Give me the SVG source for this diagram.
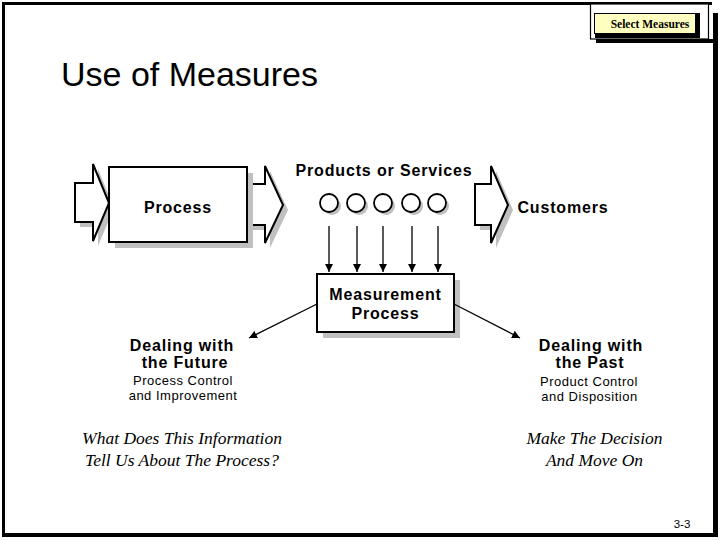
<svg xmlns="http://www.w3.org/2000/svg" width="720" height="540" viewBox="0 0 720 540">
<style>
.b{font-family:"Liberation Sans",Arial,sans-serif;font-weight:bold;font-size:16px;letter-spacing:0.85px;fill:#000;text-anchor:middle}
.r{font-family:"Liberation Sans",Arial,sans-serif;font-size:13px;letter-spacing:0.5px;fill:#000;text-anchor:middle}
.i{font-family:"Liberation Serif","Times New Roman",serif;font-style:italic;font-size:17.5px;fill:#000;text-anchor:middle}
.sh{fill:#c0c0c0;stroke:none}
.shape{fill:#fff;stroke:#000;stroke-width:2}
.circ{fill:#fff;stroke:#000;stroke-width:1.8}
.conn{stroke:#000;stroke-width:1.3;fill:none}
</style>
<defs>
<marker id="ah" viewBox="0 0 10 10" refX="10" refY="5" markerWidth="8" markerHeight="8" markerUnits="userSpaceOnUse" orient="auto">
<path d="M0,0 L10,5 L0,10 Z" fill="#000"/>
</marker>
<path id="arrowL" d="M75,183 L93,183 L93,164 L109,203 L93,241 L93,222 L75,222 Z"/>
<path id="arrowM" d="M247,184 L265,184 L265,166 L283,205 L265,243 L265,225 L247,225 Z"/>
<path id="arrowR" d="M475,184 L491,184 L491,166 L508,205 L491,243 L491,225 L475,225 Z"/>
</defs>
<rect width="720" height="540" fill="#fff"/>
<!-- frame -->
<g id="frame" fill="#000">
<rect x="2" y="2" width="710" height="3"/>
<rect x="2" y="2" width="3" height="535"/>
<rect x="2" y="533" width="716" height="4"/>
<rect x="713" y="13" width="5" height="524"/>
</g>
<!-- tab -->
<g id="tab">
<rect x="596" y="39" width="117" height="4" fill="#000"/>
<rect x="590.5" y="4" width="118" height="35" fill="#fff" stroke="#000" stroke-width="1.2"/>
<rect x="595" y="13" width="105" height="25" fill="#000"/>
<rect x="594.5" y="13.5" width="101" height="20" fill="#ffffc0" stroke="#000" stroke-width="1"/>
<text x="650" y="28" font-family="Liberation Serif,'Times New Roman',serif" font-weight="bold" font-size="11.5" text-anchor="middle">Select Measures</text>
</g>
<text x="61" y="86" font-family="Liberation Sans,Arial,sans-serif" font-size="34">Use of Measures</text>
<g id="inArrow">
<use href="#arrowL" class="sh" transform="translate(5,5)"/>
<use href="#arrowL" class="shape"/>
</g>
<g id="outArrow">
<use href="#arrowM" class="sh" transform="translate(5,5)"/>
<use href="#arrowM" class="shape"/>
</g>
<g id="process">
<rect x="115" y="173" width="138" height="75" class="sh"/>
<rect x="109" y="167" width="138" height="75" class="shape"/>
<text x="178" y="213" class="b">Process</text>
</g>
<g id="products">
<text x="384" y="176" class="b">Products or Services</text>
<circle cx="332" cy="206" r="9" class="sh"/>
<circle cx="359" cy="206" r="9" class="sh"/>
<circle cx="386" cy="206" r="9" class="sh"/>
<circle cx="414" cy="206" r="9" class="sh"/>
<circle cx="440" cy="206" r="9" class="sh"/>
<circle cx="329" cy="203" r="9" class="circ"/>
<circle cx="356" cy="203" r="9" class="circ"/>
<circle cx="383" cy="203" r="9" class="circ"/>
<circle cx="411" cy="203" r="9" class="circ"/>
<circle cx="437" cy="203" r="9" class="circ"/>
</g>
<g id="custArrow">
<use href="#arrowR" class="sh" transform="translate(5,5)"/>
<use href="#arrowR" class="shape"/>
</g>
<g id="customers">
<text x="563" y="213" class="b">Customers</text>
</g>
<g id="measurement">
<rect x="323" y="280" width="137" height="58" class="sh"/>
<rect x="317" y="274" width="137" height="58" class="shape"/>
<text x="385.5" y="300" class="b">Measurement</text>
<text x="385.5" y="319" class="b">Process</text>
</g>
<g id="connectors">
<line x1="329" y1="226" x2="329" y2="272" class="conn" marker-end="url(#ah)"/>
<line x1="357" y1="226" x2="357" y2="272" class="conn" marker-end="url(#ah)"/>
<line x1="383" y1="226" x2="383" y2="272" class="conn" marker-end="url(#ah)"/>
<line x1="412" y1="226" x2="412" y2="272" class="conn" marker-end="url(#ah)"/>
<line x1="438" y1="226" x2="438" y2="272" class="conn" marker-end="url(#ah)"/>
<line x1="317" y1="304" x2="249" y2="338" class="conn" marker-end="url(#ah)"/>
<line x1="454" y1="304" x2="520" y2="338" class="conn" marker-end="url(#ah)"/>
</g>
<g id="future">
<text x="182" y="351" class="b">Dealing with</text>
<text x="185" y="368" class="b">the Future</text>
<text x="183" y="385" class="r">Process Control</text>
<text x="183" y="400" class="r">and Improvement</text>
<text x="182" y="444" class="i">What Does This Information</text>
<text x="182" y="466" class="i">Tell Us About The Process?</text>
</g>
<g id="past">
<text x="591" y="351" class="b">Dealing with</text>
<text x="590" y="368" class="b">the Past</text>
<text x="589" y="386" class="r">Product Control</text>
<text x="589.5" y="401" class="r">and Disposition</text>
<text x="594.5" y="444" class="i">Make The Decision</text>
<text x="594.5" y="466" class="i">And Move On</text>
</g>
<text x="682" y="528" font-family="Liberation Sans,Arial,sans-serif" font-size="11.5" text-anchor="middle">3-3</text>
</svg>
